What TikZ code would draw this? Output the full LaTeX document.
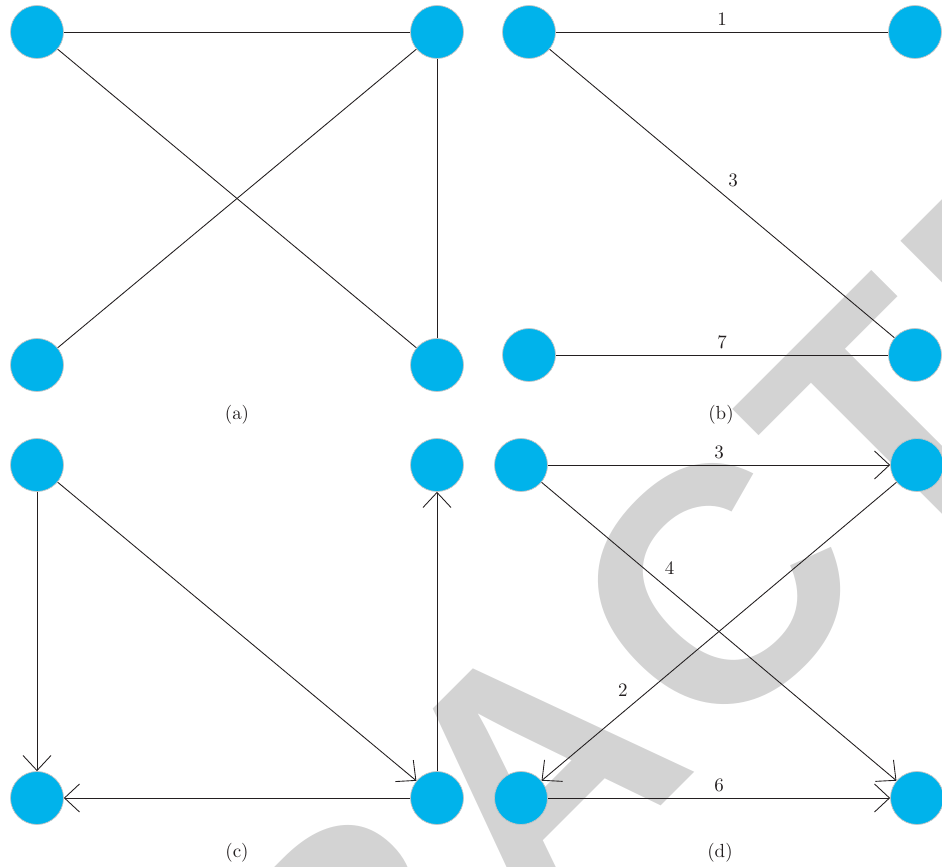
\documentclass[tikz,border=0pt]{standalone}
\usepackage{fontspec}
\newfontfamily\stampfont{Liberation Sans}[LetterSpace=4.5]
\usetikzlibrary{arrows.meta}
\definecolor{vertexBlue}{HTML}{00B3EB}
\definecolor{rimGray}{HTML}{C4C4C4}
\definecolor{inkBlack}{HTML}{231F20}
\definecolor{stampGray}{HTML}{D3D3D3}
\tikzset{
  every node/.style={font=\fontsize{10.8}{13}\selectfont},
  vertex/.style={circle, fill=vertexBlue, draw=rimGray, line width=0.4pt,
                 minimum size=10.6mm, inner sep=0pt},
  link/.style={draw=inkBlack, line width=0.5pt},
  dirlink/.style={link, -{Straight Barb[length=3mm, width=5.6mm]}},
  weight/.style={text=inkBlack},
  caption/.style={text=inkBlack},
  stamp/.style={font=\stampfont\bfseries\fontsize{190}{200}\selectfont,
                text=stampGray, rotate=45, inner sep=0pt, anchor=base west},
}

\begin{document}
\begin{tikzpicture}
\useasboundingbox (0,0) rectangle (18.84,17.34);

% ------------------------------------------------- the stamp behind it all
\begin{scope}
  \clip (0,0) rectangle (18.84,17.34);
  \node[stamp] (stamp) at (-3.10,-15.10) {RETRACTED};
\end{scope}

% ------------------------------------------------------ the four vertex sets
\foreach \p/\xl/\xr/\yt/\yb in {a/0.74/8.74/16.70/10.04,
                                b/10.58/18.30/16.70/10.24,
                                c/0.74/8.74/8.04/1.38,
                                d/10.42/18.34/8.04/1.38}{
  \node[vertex] (\p-nw) at (\xl,\yt) {};
  \node[vertex] (\p-ne) at (\xr,\yt) {};
  \node[vertex] (\p-sw) at (\xl,\yb) {};
  \node[vertex] (\p-se) at (\xr,\yb) {};}

\node[caption] (cap-a) at (4.74,9.04) {(a)};
\node[caption] (cap-b) at (14.42,9.04) {(b)};
\node[caption] (cap-c) at (4.74,0.28) {(c)};
\node[caption] (cap-d) at (14.40,0.28) {(d)};

% ------------------------------------------------------------ (a) the graph
\draw[link] (a-nw) -- (a-ne);
\draw[link] (a-nw) -- (a-se);
\draw[link] (a-ne) -- (a-sw);
\draw[link] (a-ne) -- (a-se);

% ------------------------------------------------------ (b) weighted edges
\draw[link] (b-nw) -- node[weight, above] {1} (b-ne);
\draw[link] (b-nw) -- node[weight, above right] {3} (b-se);
\draw[link] (b-sw) -- node[weight, above] {7} (b-se);

% ------------------------------------------------------- (c) directed edges
\draw[dirlink] (c-nw) -- (c-sw);
\draw[dirlink] (c-nw) -- (c-se);
\draw[dirlink] (c-se) -- (c-ne);
\draw[dirlink] (c-se) -- (c-sw);

% ---------------------------------------------- (d) directed, with weights
\draw[dirlink] (d-nw) -- node[weight, above] {3} (d-ne);
\draw[dirlink] (d-nw) -- node[weight, pos=0.33, above right] {4} (d-se);
\draw[dirlink] (d-ne) -- node[weight, pos=0.74, above left] {2} (d-sw);
\draw[dirlink] (d-sw) -- node[weight, above] {6} (d-se);

\end{tikzpicture}
\end{document}
